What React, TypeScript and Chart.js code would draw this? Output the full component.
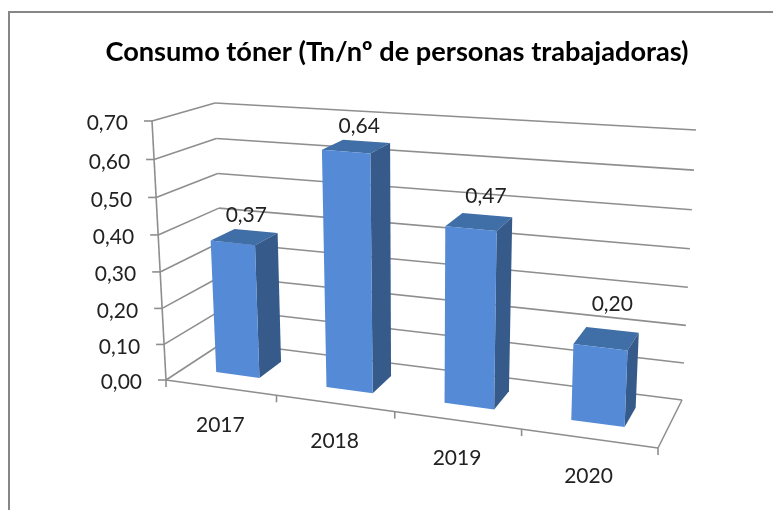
import React, { useEffect, useRef } from "react";
import { Chart, registerables } from "chart.js";

Chart.register(...registerables);

const categories = ["2017", "2018", "2019", "2020"];
const consumo = [0.37, 0.64, 0.47, 0.2];
const axisMax = 0.7;
const axisStep = 0.1;
const chartTitle = "Consumo tóner (Tn/nº de personas trabajadoras)";

const CANVAS_LEFT = 21;
type Pt = [number, number];
// picture of the unit box: [u, v, w] corners (x along categories, v up, w into the page)
const BOX = {
  f00: [166, 380] as Pt,
  f10: [658, 448] as Pt,
  f01: [152, 121] as Pt,
  f11: [670, 164] as Pt,
  b00: [224, 342] as Pt,
  b10: [682, 400] as Pt,
  b01: [215, 103] as Pt,
  b11: [696, 130] as Pt,
};
const KU = 0.869;
const KV = 0.955;
const BAR_W0 = 0.32;
const BAR_W1 = 0.73;
const warp = (t: number, k: number) => (k * t) / (1 + (k - 1) * t);
const mix = (a: Pt, b: Pt, t: number): Pt => [a[0] + (b[0] - a[0]) * t, a[1] + (b[1] - a[1]) * t];

function project(u: number, v: number, w: number): Pt {
  const U = warp(u, KU);
  const V = warp(v, KV);
  const front = mix(mix(BOX.f00, BOX.f10, U), mix(BOX.f01, BOX.f11, U), V);
  const back = mix(mix(BOX.b00, BOX.b10, U), mix(BOX.b01, BOX.b11, U), V);
  const p = mix(front, back, w);
  return [p[0] - CANVAS_LEFT, p[1]];
}

const GRID = "#8e8e8e";
const TEXT = "#222222";
const FRONT = "#548ad6";
const TOP = "#406ea6";
const SIDE = "#365b8b";
const LABEL_FONT = '21px Lato';
const LABEL_SHIFT: Pt[] = [[2, -22], [3, -20], [7, -26], [6, -34]];

function line(ctx: CanvasRenderingContext2D, a: Pt, b: Pt) {
  ctx.beginPath();
  ctx.moveTo(a[0], a[1]);
  ctx.lineTo(b[0], b[1]);
  ctx.stroke();
}
function face(ctx: CanvasRenderingContext2D, pts: Pt[], color: string) {
  ctx.beginPath();
  pts.forEach((p, i) => (i ? ctx.lineTo(p[0], p[1]) : ctx.moveTo(p[0], p[1])));
  ctx.closePath();
  ctx.fillStyle = color;
  ctx.fill();
}

const perspective = {
  id: "perspective",
  beforeDatasetsDraw(chart: any) {
    const { ctx, scales } = chart;
    const area = chart.chartArea;
    const n = categories.length;
    ctx.save();
    ctx.strokeStyle = GRID;
    ctx.lineWidth = 1.6;
    ctx.lineCap = "butt";
    // value axis, walls and its labels
    line(ctx, project(0, 0, 0), project(0, 1, 0));
    scales.y.ticks.forEach((tick: any) => {
      const v = (area.bottom - scales.y.getPixelForValue(tick.value)) / area.height;
      const f = project(0, v, 0);
      const b = project(0, v, 1);
      const r = project(1, v, 1);
      line(ctx, [f[0] - 8, f[1]], f);
      line(ctx, f, b);
      line(ctx, b, r);
      ctx.fillStyle = TEXT;
      ctx.font = LABEL_FONT;
      ctx.textAlign = "right";
      ctx.textBaseline = "middle";
      ctx.fillText(tick.label, f[0] - 24, f[1] + 2.5);
    });
    // floor outline
    line(ctx, project(0, 0, 0), project(1, 0, 0));
    line(ctx, project(1, 0, 0), project(1, 0, 1));
    // category ticks and labels
    for (let i = 0; i <= n; i++) {
      const p = project(i / n, 0, 0);
      line(ctx, p, [p[0], p[1] + 7]);
    }
    scales.x.ticks.forEach((tick: any, i: number) => {
      const u = (scales.x.getPixelForTick(i) - area.left) / area.width;
      const p = project(u, 0, 0);
      ctx.fillStyle = TEXT;
      ctx.font = LABEL_FONT;
      ctx.textAlign = "center";
      ctx.textBaseline = "middle";
      ctx.fillText(String(tick.label), p[0], p[1] + 38);
    });
    ctx.restore();
  },
  beforeDatasetDraw(chart: any, args: any) {
    const { ctx } = chart;
    const area = chart.chartArea;
    const meta = chart.getDatasetMeta(args.index);
    ctx.save();
    meta.data.forEach((bar: any) => {
      const u0 = (bar.x - bar.width / 2 - area.left) / area.width;
      const u1 = (bar.x + bar.width / 2 - area.left) / area.width;
      const v0 = (area.bottom - bar.base) / area.height;
      const v1 = (area.bottom - bar.y) / area.height;
      face(ctx, [project(u0, v1, BAR_W0), project(u1, v1, BAR_W0), project(u1, v1, BAR_W1), project(u0, v1, BAR_W1)], TOP);
      face(ctx, [project(u1, v0, BAR_W0), project(u1, v1, BAR_W0), project(u1, v1, BAR_W1), project(u1, v0, BAR_W1)], SIDE);
      face(ctx, [project(u0, v0, BAR_W0), project(u1, v0, BAR_W0), project(u1, v1, BAR_W0), project(u0, v1, BAR_W0)], FRONT);
    });
    ctx.restore();
    return false;
  },
  afterDatasetsDraw(chart: any) {
    const { ctx } = chart;
    const area = chart.chartArea;
    const meta = chart.getDatasetMeta(0);
    ctx.save();
    ctx.fillStyle = TEXT;
    ctx.font = LABEL_FONT;
    ctx.textAlign = "center";
    ctx.textBaseline = "middle";
    meta.data.forEach((bar: any, i: number) => {
      const u = (bar.x - area.left) / area.width;
      const v = (area.bottom - bar.y) / area.height;
      const p = project(u, v, (BAR_W0 + BAR_W1) / 2);
      const text = consumo[i].toFixed(2).replace(".", ",");
      ctx.fillText(text, p[0] + LABEL_SHIFT[i][0], p[1] + LABEL_SHIFT[i][1]);
    });
    ctx.restore();
  },
};

export default function App() {
  const ref = useRef<HTMLCanvasElement>(null);
  useEffect(() => {
    document.body.style.margin = "0";
    const chart = new Chart(ref.current!, {
      type: "bar",
      data: {
        labels: categories,
        datasets: [
          {
            label: "Consumo tóner",
            data: consumo,
            backgroundColor: FRONT,
            barPercentage: 0.4,
            categoryPercentage: 1,
          },
        ],
      },
      options: {
        animation: false,
        responsive: false,
        layout: { padding: 0 },
        scales: {
          x: { display: false, offset: true },
          y: {
            display: false,
            min: 0,
            max: axisMax,
            ticks: {
              stepSize: axisStep,
              callback: (value: any) => Number(value).toFixed(2).replace(".", ","),
            },
          },
        },
        plugins: {
          legend: { display: false },
          tooltip: { enabled: false },
          title: {
            display: true,
            text: chartTitle,
            color: "#000000",
            font: { family: "Lato", size: 27.2, weight: "bold" },
            padding: { top: 36, bottom: 20 },
          },
        },
      },
      plugins: [perspective],
    } as any);
    return () => chart.destroy();
  }, []);
  return (
    <div style={{ position: "absolute", left: 0, top: 0, width: 773, height: 510, overflow: "hidden", background: "#fff" }}>
      <div style={{ position: "absolute", left: 8, top: 11, width: 780, height: 520, borderTop: "2px solid #868686", borderLeft: "2px solid #868686" }} />
      <canvas ref={ref} width={773 - CANVAS_LEFT} height={510} style={{ position: "absolute", left: CANVAS_LEFT, top: 0, display: "block", filter: "blur(0.4px)" }} />
    </div>
  );
}
